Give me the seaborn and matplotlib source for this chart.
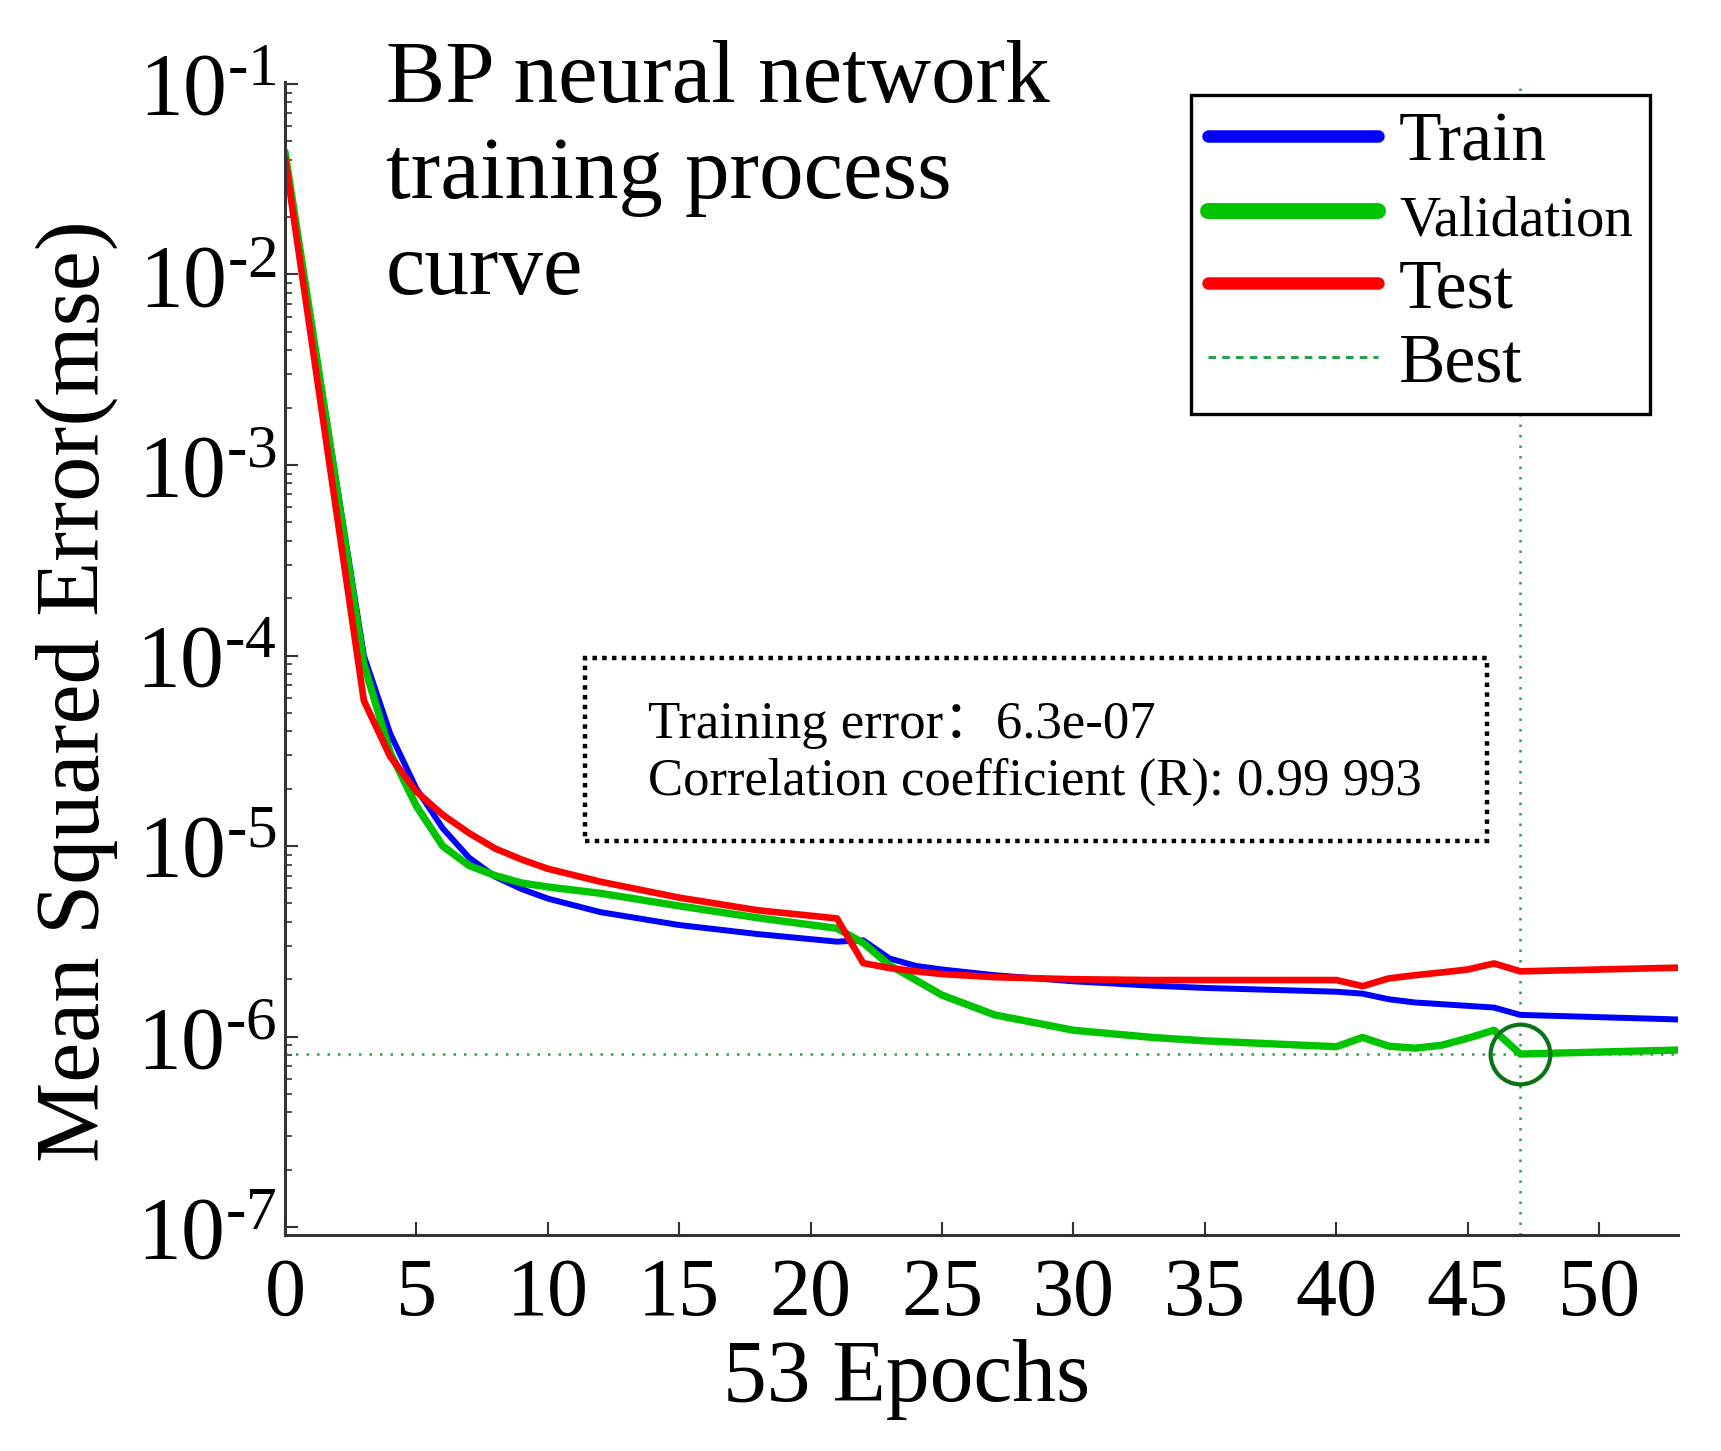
import numpy as np
import pandas as pd
import matplotlib
matplotlib.use('Agg')
import matplotlib.pyplot as plt
from matplotlib.lines import Line2D
from matplotlib.patches import Rectangle
from matplotlib.ticker import NullFormatter, LogLocator, FixedFormatter
import seaborn as sns

# ---- data ----
epochs = [0, 3, 4, 5, 6, 7, 8, 9, 10, 12, 15, 18, 21, 22, 23, 24, 25, 27,
          30, 33, 35, 40, 41, 42, 43, 44, 45, 46, 47, 53]

train_mse = [4.2e-2, 1.0e-4, 3.9e-5, 2.0e-5, 1.24e-5, 8.7e-6, 6.9e-6, 5.95e-6,
             5.3e-6, 4.5e-6, 3.85e-6, 3.45e-6, 3.15e-6, 3.2e-6, 2.57e-6, 2.35e-6,
             2.25e-6, 2.1e-6, 1.95e-6, 1.85e-6, 1.8e-6, 1.72e-6, 1.68e-6, 1.57e-6,
             1.51e-6, 1.48e-6, 1.45e-6, 1.42e-6, 1.3e-6, 1.23e-6]

val_mse = [4.4e-2, 9.0e-5, 3.1e-5, 1.62e-5, 1.0e-5, 7.9e-6, 7.0e-6, 6.4e-6,
           6.1e-6, 5.65e-6, 4.85e-6, 4.2e-6, 3.7e-6, 3.1e-6, 2.37e-6, 1.98e-6,
           1.65e-6, 1.3e-6, 1.08e-6, 9.9e-7, 9.5e-7, 8.85e-7, 9.9e-7, 8.9e-7,
           8.7e-7, 9.0e-7, 9.8e-7, 1.08e-6, 8.1e-7, 8.5e-7]

test_mse = [4.1e-2, 5.8e-5, 2.95e-5, 1.93e-5, 1.46e-5, 1.17e-5, 9.7e-6, 8.5e-6,
            7.6e-6, 6.5e-6, 5.36e-6, 4.6e-6, 4.17e-6, 2.43e-6, 2.29e-6, 2.2e-6,
            2.13e-6, 2.05e-6, 2.0e-6, 1.98e-6, 1.98e-6, 1.98e-6, 1.84e-6, 2.02e-6,
            2.1e-6, 2.17e-6, 2.25e-6, 2.42e-6, 2.2e-6, 2.3e-6]

best_epoch = 47
best_mse = 8.1e-7

xticks = [0, 5, 10, 15, 20, 25, 30, 35, 40, 45, 50]
yticks = [1e-7, 1e-6, 1e-5, 1e-4, 1e-3, 1e-2, 1e-1]
ytick_labels = [r'$\mathdefault{10^{\text{-}%d}}$' % k for k in [7, 6, 5, 4, 3, 2, 1]]

df = pd.DataFrame({'epoch': epochs, 'Train': train_mse,
                   'Validation': val_mse, 'Test': test_mse})

# ---- style ----
sns.set_theme(style='ticks')
plt.rcParams['font.family'] = ['Liberation Serif', 'Noto Sans CJK SC', 'DejaVu Serif']
plt.rcParams['mathtext.fontset'] = 'custom'
plt.rcParams['mathtext.rm'] = 'Liberation Serif'
plt.rcParams['mathtext.it'] = 'Liberation Serif:italic'
plt.rcParams['axes.unicode_minus'] = False
for key in ['text.color', 'axes.labelcolor', 'xtick.color', 'ytick.color',
            'xtick.labelcolor', 'ytick.labelcolor']:
    plt.rcParams[key] = 'black'

BLUE = '#0000ff'
GREEN = '#00c400'
RED = '#ff0000'
BEST = '#2aa04a'

fig = plt.figure(figsize=(17.21, 14.51), dpi=100)
ax = fig.add_axes([0.1656, 0.1489, 0.8094, 0.7946])

sns.lineplot(data=df, x='epoch', y='Train', color=BLUE, lw=4.3, ax=ax,
             estimator=None, sort=False)
sns.lineplot(data=df, x='epoch', y='Validation', color=GREEN, lw=5.3, ax=ax,
             estimator=None, sort=False)
sns.lineplot(data=df, x='epoch', y='Test', color=RED, lw=4.8, ax=ax,
             estimator=None, sort=False)

dots = (0, (1, 3.2))
ax.axhline(best_mse, color=BEST, lw=1.8, ls=dots, zorder=1)
ax.axvline(best_epoch, color=BEST, lw=1.8, ls=dots, zorder=1)
ax.plot([best_epoch], [best_mse], 'o', ms=43, mfc='none', mec='#087414', mew=3)

ax.set_yscale('log')
ax.set_xlim(0, 53)
ax.set_ylim(9.1e-8, 1.023e-1)
ax.set_xticks(xticks)
ax.set_yticks(yticks)
ax.yaxis.set_major_formatter(FixedFormatter(ytick_labels))
ax.yaxis.set_minor_locator(LogLocator(base=10, subs=np.arange(2, 10), numticks=20))
ax.yaxis.set_minor_formatter(NullFormatter())

ax.tick_params(axis='both', which='major', direction='in', length=9.5, width=1.5,
               color='#333333', labelcolor='black')
ax.tick_params(axis='x', labelsize=59, pad=16)
ax.tick_params(axis='y', labelsize=63, pad=6)
ax.tick_params(axis='y', which='minor', direction='in', length=5, width=1.2,
               color='#333333')

sns.despine(ax=ax)
for s in ['left', 'bottom']:
    ax.spines[s].set_linewidth(2.2)
    ax.spines[s].set_color('#333333')

ax.set_xlabel('53 Epochs', fontsize=63, color='black')
ax.set_ylabel('Mean Squared Error(mse)', fontsize=65, color='black')
ax.xaxis.set_label_coords(0.4465, -0.09)
ax.yaxis.set_label_coords(-0.12, 0.472)

# title inside the plot (baseline of the last line)
ax.text(0.0725, 0.816, 'BP neural network\ntraining process\ncurve',
        transform=ax.transAxes, fontsize=64, va='baseline', ha='left',
        linespacing=1.24, color='black')

# info box
ax.add_patch(Rectangle((0.2154, 0.3417), 0.6475, 0.1587, transform=ax.transAxes,
                       fill=False, ec='black', lw=3.2, ls=(0, (1, 1.2)), zorder=5))
ax.text(0.2606, 0.431, 'Training error\uff1a6.3e-07', transform=ax.transAxes,
        fontsize=38, va='baseline', ha='left', color='black')
ax.text(0.2606, 0.3816, 'Correlation coefficient (R): 0.99 993', transform=ax.transAxes,
        fontsize=38, va='baseline', ha='left', color='black')

# legend
handles = [Line2D([], [], color=BLUE, lw=9),
           Line2D([], [], color=GREEN, lw=11.5),
           Line2D([], [], color=RED, lw=9),
           Line2D([], [], color=BEST, lw=2.2, ls=(0, (2.5, 2)))]
leg = ax.legend(handles, ['Train', 'Validation', 'Test', 'Best'],
                loc='upper right', bbox_to_anchor=(0.98, 0.989), borderaxespad=0,
                fontsize=50, handlelength=2.45, handletextpad=0.3,
                borderpad=0.25, labelspacing=0.16, fancybox=False, framealpha=1)
leg.get_frame().set_edgecolor('black')
leg.get_frame().set_linewidth(2.4)
leg.get_texts()[1].set_fontsize(41)
for t in leg.get_texts():
    t.set_color('black')

fig.savefig('out.png', dpi=100)
